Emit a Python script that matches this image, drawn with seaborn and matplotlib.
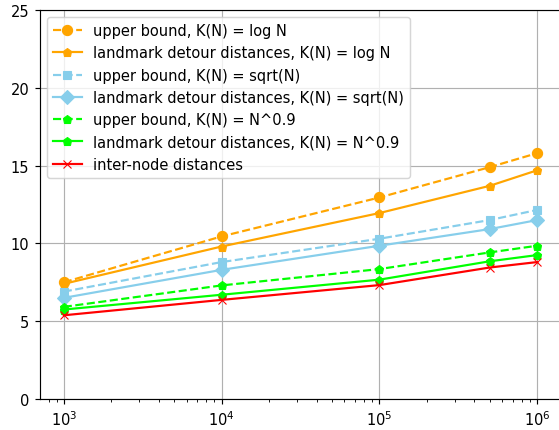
import matplotlib
matplotlib.use("Agg")
import matplotlib.pyplot as plt
import seaborn as sns
import pandas as pd

N = [1e3, 1e4, 1e5, 5e5, 1e6]
ub_log = [7.5, 10.45, 12.95, 14.9, 15.8]
ld_log = [7.4, 9.8, 11.95, 13.7, 14.7]
ub_sqrt = [6.9, 8.8, 10.3, 11.5, 12.15]
ld_sqrt = [6.5, 8.3, 9.85, 10.92, 11.5]
ub_09 = [5.92, 7.3, 8.35, 9.42, 9.85]
ld_09 = [5.75, 6.7, 7.67, 8.85, 9.25]
inter = [5.38, 6.37, 7.32, 8.45, 8.8]

series = [
    ("upper bound, K(N) = log N", ub_log, "orange", "o", "--"),
    ("landmark detour distances, K(N) = log N", ld_log, "orange", "p", "-"),
    ("upper bound, K(N) = sqrt(N)", ub_sqrt, "skyblue", "s", "--"),
    ("landmark detour distances, K(N) = sqrt(N)", ld_sqrt, "skyblue", "D", "-"),
    ("upper bound, K(N) = N^0.9", ub_09, "lime", "p", "--"),
    ("landmark detour distances, K(N) = N^0.9", ld_09, "lime", "p", "-"),
    ("inter-node distances", inter, "red", "x", "-"),
]

DPI = 105
fig = plt.figure(figsize=(559 / DPI, 431 / DPI), dpi=DPI)
ax = fig.add_axes([39.5 / 559, 31 / 431, 522 / 559, 389 / 431])

for label, vals, color, marker, ls in series:
    df = pd.DataFrame({"N": N, "d": vals})
    sns.lineplot(data=df, x="N", y="d", ax=ax, color=color, marker=marker,
                 linestyle=ls, label=label, markersize=7 if marker in ("o", "D") else 6,
                 markeredgecolor=color, linewidth=1.5)

ax.set_xscale("log")
ax.set_xlim(10 ** 2.846, 10 ** 6.154)
ax.set_ylim(0, 25)
ax.set_xlabel("")
ax.set_ylabel("")
ax.grid(True, which="major")
ax.legend(loc="upper left")

fig.savefig("out.png", dpi=DPI)
